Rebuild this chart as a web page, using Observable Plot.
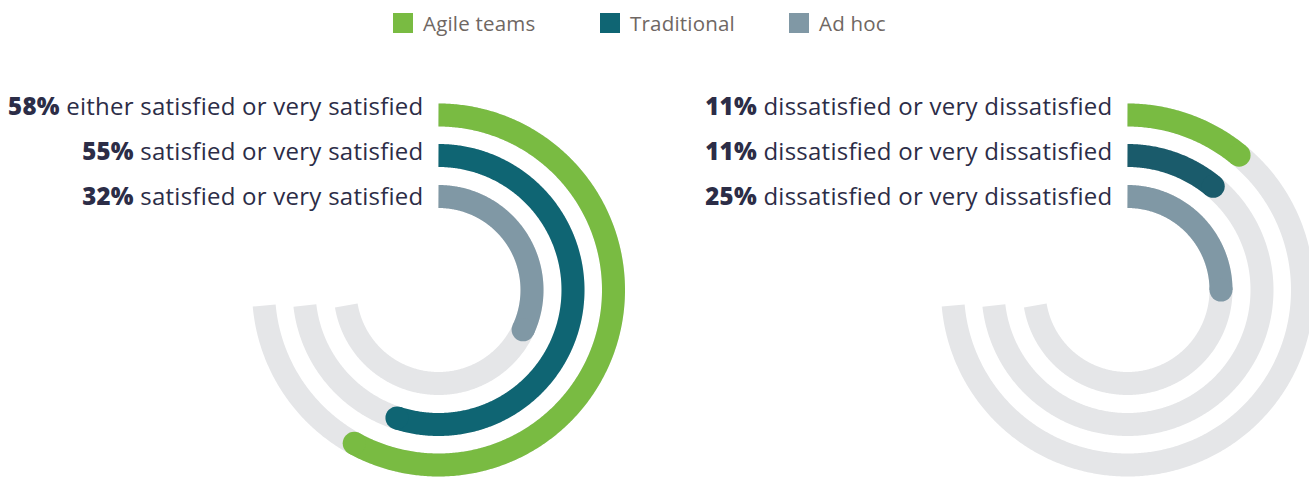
<!DOCTYPE html>
<html><head><meta charset="utf-8">
<script src="https://cdn.jsdelivr.net/npm/d3@7"></script>
<script src="https://cdn.jsdelivr.net/npm/@observablehq/plot@0.6"></script>
<style>
body{margin:0;background:#fff;font-family:"Open Sans",sans-serif;}
#legend{position:relative;width:1309px;height:48px;}
.item{position:absolute;top:13px;height:20px;display:flex;align-items:center;font-size:20.5px;letter-spacing:0.2px;color:#6f6763;white-space:nowrap;}
.sw{width:20px;height:20px;margin-right:10px;flex:none;}
#chart svg{display:block;}
#chart svg text{letter-spacing:0.25px;}
</style></head><body>
<div id="legend"></div>
<div id="chart"></div>
<script>
// ---- data ----
const groups = ["Agile teams", "Traditional", "Ad hoc"];
const satisfiedPct = [58, 55, 32];
const satisfiedText = ["either satisfied or very satisfied", "satisfied or very satisfied", "satisfied or very satisfied"];
const dissatisfiedPct = [11, 11, 25];
const dissatisfiedText = ["dissatisfied or very dissatisfied", "dissatisfied or very dissatisfied", "dissatisfied or very dissatisfied"];

// ---- style ----
const leftColors = ["#79bb42", "#0f6573", "#8098a5"];
const rightColors = ["#79bb42", "#1a5b6b", "#8098a5"];
const trackColor = "#e5e6e8";
const textColor = "#2c2d47";
const FONT = "Open Sans";
const FS = 24;
const LS = 0.25;

// legend
const legendLeft = [393, 600, 789];
const legend = document.getElementById("legend");
groups.forEach((g, i) => {
  const it = document.createElement("div");
  it.className = "item";
  it.style.left = legendLeft[i] + "px";
  it.innerHTML = `<span class="sw" style="background:${leftColors[i]}"></span><span>${g}</span>`;
  legend.appendChild(it);
});

// ---- layout ----
const W = 1309, H = 429;
const CY = 241.5;
const centersX = [438, 1127];
const radii = [175, 134.5, 93.5];
const BAND = 23;
const CUT = 15.5; // tracks end slightly below the 9 o'clock line
const labelY0 = 59, labelStep = 45;

const canvas = document.createElement("canvas").getContext("2d");
function measure(t, weight) {
  canvas.font = `${weight} ${FS}px "${FONT}"`;
  if ("letterSpacing" in canvas) canvas.letterSpacing = LS + "px";
  return canvas.measureText(t).width;
}

function arcPoints(cx, r, a0, a1, id) {
  const n = Math.max(2, Math.ceil(Math.abs(a1 - a0) / (Math.PI / 360)));
  return d3.range(n + 1).map(k => {
    const a = a0 + (a1 - a0) * k / n;
    return {x: cx + r * Math.sin(a), y: CY - r * Math.cos(a), id};
  });
}

const tracks = [], bars = [], caps = [], labelsBold = [], labelsReg = [];
[[satisfiedPct, satisfiedText, leftColors], [dissatisfiedPct, dissatisfiedText, rightColors]].forEach(([vals, texts, cols], c) => {
  const cx = centersX[c];
  vals.forEach((v, i) => {
    const r = radii[i];
    const aEnd = 1.5 * Math.PI - Math.asin(CUT / r);
    tracks.push(...arcPoints(cx, r, 0, aEnd, `t${c}${i}`));
    const a = v / 100 * 2 * Math.PI;
    bars.push(...arcPoints(cx, r, 0, a, `b${c}${i}`).map(p => ({...p, color: cols[i]})));
    caps.push({x: cx + r * Math.sin(a), y: CY - r * Math.cos(a), color: cols[i]});
    const xEnd = cx - 15;
    const y = labelY0 + labelStep * i;
    const rest = " " + texts[i];
    labelsReg.push({x: xEnd, y, text: texts[i]});
    labelsBold.push({x: xEnd - measure(rest, 400), y, text: v + "%"});
  });
});

const chart = Plot.plot({
  width: W, height: H,
  margin: 0,
  x: {domain: [0, W], range: [0, W], axis: null},
  y: {domain: [0, H], range: [0, H], axis: null},
  color: {type: "identity"},
  marks: [
    Plot.line(tracks, {x: "x", y: "y", z: "id", stroke: trackColor, strokeWidth: BAND, strokeLinecap: "butt", strokeLinejoin: "round"}),
    Plot.line(bars, {x: "x", y: "y", z: "id", stroke: "color", strokeWidth: BAND, strokeLinecap: "butt", strokeLinejoin: "round"}),
    Plot.dot(caps, {x: "x", y: "y", r: BAND / 2, fill: "color", stroke: null}),
    Plot.text(labelsReg, {x: "x", y: "y", text: "text", textAnchor: "end", fontSize: FS, fontFamily: FONT, fontWeight: 400, fill: textColor}),
    Plot.text(labelsBold, {x: "x", y: "y", text: "text", textAnchor: "end", fontSize: FS, fontFamily: FONT, fontWeight: 800, fill: textColor})
  ]
});
document.getElementById("chart").appendChild(chart);
</script>
</body></html>
